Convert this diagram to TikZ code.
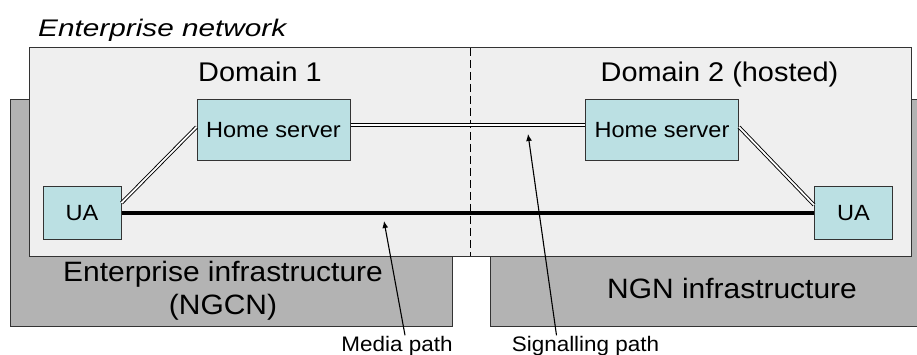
\documentclass[tikz,border=0pt]{standalone}
\usepackage{fontspec}
\usetikzlibrary{arrows.meta}
\setmainfont[FakeStretch=1.07]{Liberation Sans}
\newfontfamily\widefont[FakeStretch=1.24]{Liberation Sans}
\definecolor{boxcyan}{RGB}{187,224,227}
\definecolor{entgray}{RGB}{239,239,239}
\definecolor{infragray}{RGB}{179,179,179}
\begin{document}
\begin{tikzpicture}[x=1pt,y=-1pt]
      \useasboundingbox (0,0) rectangle (917,355);
      \tikzstyle{infra}=[draw=black!80,fill=infragray,line width=1pt]
      \tikzstyle{entity}=[draw=black!80,fill=boxcyan,line width=1pt,
                          font=\fontsize{22}{26}\selectfont,inner sep=0pt]
      \tikzstyle{sig}=[double,double distance=1.8pt,line width=0.9pt]
      \tikzstyle{note}=[font=\fontsize{21}{25}\selectfont,inner sep=1pt,anchor=base]
      \tikzstyle{pointer}=[-{Latex[length=7pt,width=6pt]},line width=1.1pt]

      % infrastructure underneath
      \draw[infra] (10,100) rectangle (452,326);
      \draw[infra] (490,100) rectangle (925,326);
      \node[align=center,font=\fontsize{28}{33}\selectfont] (ngcn) at (223,291)
            {Enterprise infrastructure\\(NGCN)};
      \node[anchor=base,font=\fontsize{28}{33}\selectfont] (ngn) at (732,298)
            {NGN infrastructure};

      % enterprise network
      \draw[draw=black!80,fill=entgray,line width=1pt] (29,48) rectangle (911,256);
      \draw[dash pattern=on 8pt off 4pt,line width=0.9pt] (470,48) -- (470,256);
      \node[anchor=base west,inner sep=0pt,font=\widefont\itshape\fontsize{24}{28}\selectfont]
            (entlbl) at (38,36.7) {Enterprise network};
      \node[anchor=base,font=\fontsize{27}{32}\selectfont] (dom1) at (260,81.7) {Domain 1};
      \node[anchor=base,font=\fontsize{27}{32}\selectfont] (dom2) at (719.5,81.7) {Domain 2 (hosted)};

      \node[entity,minimum width=153pt,minimum height=61pt] (hs1) at (273.5,130.5) {Home server};
      \node[entity,minimum width=153pt,minimum height=61pt] (hs2) at (662,130.5) {Home server};
      \node[entity,minimum width=78pt,minimum height=52pt] (ua1) at (82,213) {UA};
      \node[entity,minimum width=78pt,minimum height=52pt] (ua2) at (853.5,213) {UA};

      \draw[line width=4.5pt] (ua1) -- (ua2);
      \draw[sig] ([yshift=5.5pt]hs1.east) -- ([yshift=5.5pt]hs2.west);
      \draw[sig] ([yshift=10pt]ua1.east) -- ([yshift=3.5pt]hs1.west);
      \draw[sig] ([yshift=3.5pt]hs2.east) -- ([yshift=8pt]ua2.west);

      % path labels
      \node[note] (medialbl) at (397,351.7) {Media path};
      \node[note] (siglbl) at (585.5,351.7) {Signalling path};
      \coordinate (mediatip) at (384,221);
      \coordinate (sigtip) at (528,134);
      \draw[pointer] ([xshift=8pt]medialbl.north) -- (mediatip);
      \draw[pointer] ([xshift=-29pt]siglbl.north) -- (sigtip);
\end{tikzpicture}
\end{document}
